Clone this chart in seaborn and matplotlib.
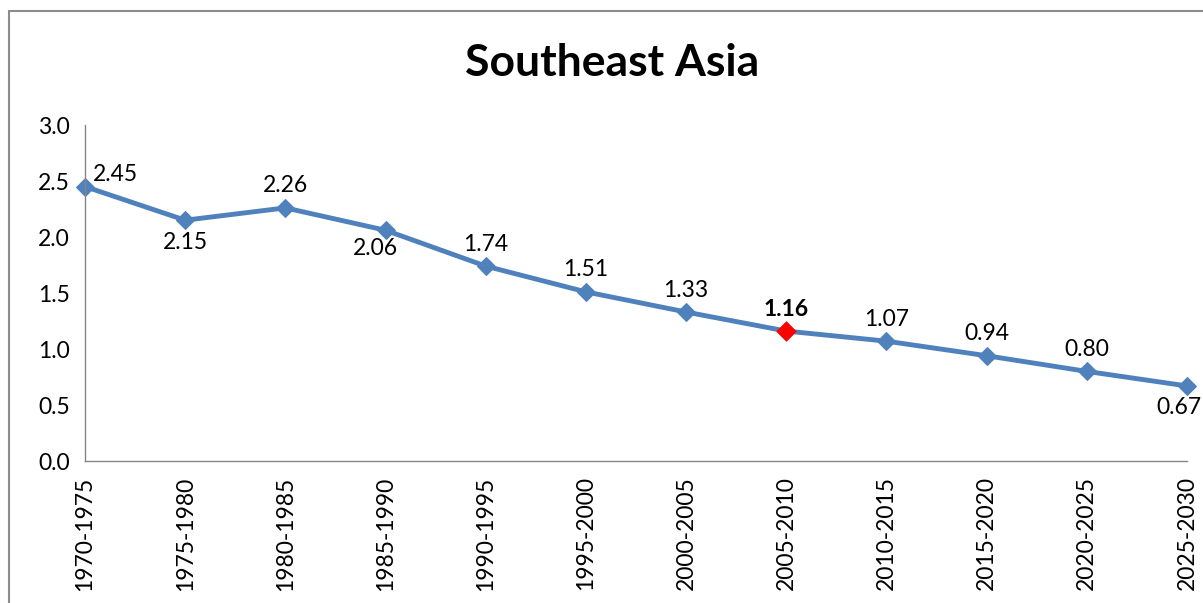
import matplotlib
matplotlib.use("Agg")
import matplotlib.pyplot as plt
from matplotlib.patches import Rectangle
import seaborn as sns
import pandas as pd

periods = ['1970-1975', '1975-1980', '1980-1985', '1985-1990', '1990-1995', '1995-2000',
           '2000-2005', '2005-2010', '2010-2015', '2015-2020', '2020-2025', '2025-2030']
values = [2.45, 2.15, 2.26, 2.06, 1.74, 1.51, 1.33, 1.16, 1.07, 0.94, 0.80, 0.67]
highlight = '2005-2010'

sns.set_style('white')
plt.rcParams['font.family'] = ['Lato', 'DejaVu Sans']
plt.rcParams['text.color'] = 'black'
plt.rcParams['xtick.labelcolor'] = 'black'
plt.rcParams['ytick.labelcolor'] = 'black'

df = pd.DataFrame({'period': periods, 'value': values})
df['pos'] = range(len(df))

fig = plt.figure(figsize=(12.03, 6.03), dpi=100)
ax = fig.add_axes([85 / 1203, 1 - 461 / 603, (1187 - 85) / 1203, (461 - 125) / 603])

blue = '#4F81BD'
sns.lineplot(data=df, x='pos', y='value', ax=ax, color=blue, linewidth=3.5,
             marker='D', markersize=9, markeredgecolor=blue, clip_on=False)
hl = df[df['period'] == highlight]
sns.scatterplot(data=hl, x='pos', y='value', ax=ax, color='red', marker='D',
                s=110, edgecolor='red', linewidth=0, zorder=5, clip_on=False)

# label placement: (dx px, dy px, ha, va)
place = {0: (8, 12, 'left', 'center'), 1: (0, -22, 'center', 'center'),
         3: (-10, -18, 'center', 'center'), 11: (-8, -22, 'center', 'center')}
for i, (p, v) in enumerate(zip(df['pos'], df['value'])):
    dx, dy, ha, va = place.get(i, (0, 22, 'center', 'center'))
    bold = periods[i] == highlight
    ax.annotate(f'{v:.2f}', (p, v), xytext=(dx * 0.72, dy * 0.72), textcoords='offset points',
                ha=ha, va=va, fontsize=16.5, fontweight='bold' if bold else 'normal',
                color='black', annotation_clip=False)

ax.set_xlim(0, len(periods) - 1)
ax.set_ylim(0, 3.0)
ax.set_yticks([0, 0.5, 1.0, 1.5, 2.0, 2.5, 3.0])
ax.set_yticklabels([f'{t:.1f}' for t in ax.get_yticks()], fontsize=16.5)
ax.set_xticks(df['pos'])
ax.set_xticklabels(periods, rotation=90, fontsize=16.5)
ax.set_xlabel('')
ax.set_ylabel('')

for s in ['top', 'right']:
    ax.spines[s].set_visible(False)
for s in ['left', 'bottom']:
    ax.spines[s].set_color('#868686')
    ax.spines[s].set_linewidth(1)
ax.tick_params(axis='both', direction='out', length=6, color='#868686', width=1, pad=5,
               labelcolor='black')

fig.text(612 / 1203, 1 - 63 / 603, 'Southeast Asia', ha='center', va='center',
         fontsize=32, fontweight='bold', color='black')

fig.patches.append(Rectangle((9 / 1203, -0.1), 1.2, 1 - 11 / 603 + 0.1,
                             transform=fig.transFigure, fill=False,
                             edgecolor='#8c8c8c', linewidth=1.5))

fig.savefig('out.png', dpi=100)
